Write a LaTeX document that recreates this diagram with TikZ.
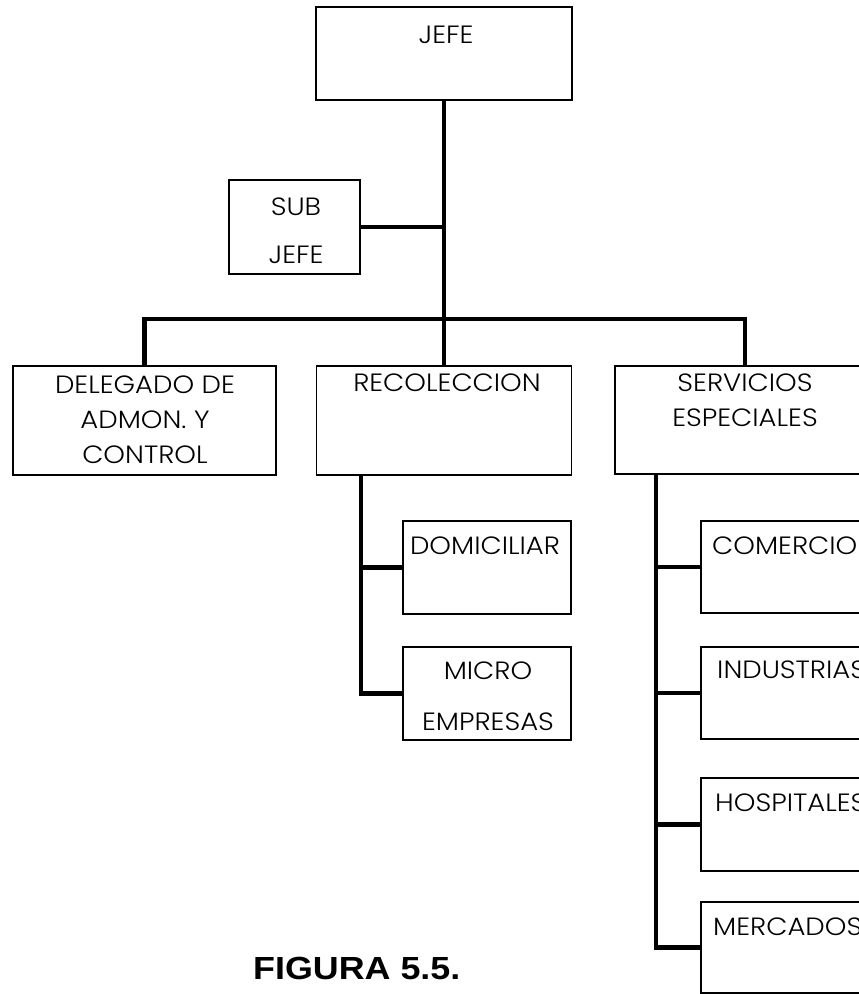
\documentclass[tikz,border=0pt]{standalone}
\usepackage{fontspec}
\setmainfont{Poppins}[UprightFont=* Light, FakeStretch=1.1]
\newfontfamily\figfont{Liberation Sans}[FakeStretch=1.12]
\begin{document}
\begin{tikzpicture}[x=1pt,y=-1pt,
  box/.style={draw=black, line width=1.8pt, rectangle, inner sep=0pt, fill=none},
  lbl/.style={inner sep=0pt, font=\fontsize{25}{30}\selectfont},
  link/.style={draw=black, line width=4.5pt}]
\useasboundingbox (0,0) rectangle (859,994);
% boxes
\node[box, minimum width=256pt, minimum height=93pt] (jefe) at (444,53.5) {};
\node[box, minimum width=131pt, minimum height=94pt] (sub) at (294.5,227) {};
\node[box, minimum width=263pt, minimum height=109pt] (deleg) at (144.5,420.5) {};
\node[box, minimum width=255pt, minimum height=109pt] (recol) at (444,420.5) {};
\node[box, minimum width=260pt, minimum height=108pt] (serv) at (745,420) {};
\node[box, minimum width=168pt, minimum height=93pt] (domi) at (487,567.5) {};
\node[box, minimum width=168pt, minimum height=93pt] (micro) at (487,693.5) {};
\node[box, minimum width=174pt, minimum height=92pt] (comer) at (788,567) {};
\node[box, minimum width=174pt, minimum height=92pt] (indus) at (788,693) {};
\node[box, minimum width=174pt, minimum height=93pt] (hosp) at (788,824.5) {};
\node[box, minimum width=174pt, minimum height=91pt] (merc) at (788,947.5) {};
% texts
\node[lbl] (tjefe) at (446,35) {JEFE};
\node[lbl] (tsub1) at (296,207) {SUB};
\node[lbl] (tsub2) at (296,255) {JEFE};
\node[lbl] (tdel1) at (145,385) {DELEGADO DE};
\node[lbl] (tdel2) at (145,420) {ADMON. Y};
\node[lbl] (tdel3) at (145,455) {CONTROL};
\node[lbl] (trec) at (447,383) {RECOLECCION};
\node[lbl] (tser1) at (745,383) {SERVICIOS};
\node[lbl] (tser2) at (745,418) {ESPECIALES};
\node[lbl] (tdom) at (485,546) {DOMICILIAR};
\node[lbl] (tmic1) at (488,671) {MICRO};
\node[lbl] (tmic2) at (488,722) {EMPRESAS};
\node[lbl, anchor=west] (tcom) at (712,546) {COMERCIO};
\node[lbl, anchor=west] (tind) at (717,670) {INDUSTRIAS};
\node[lbl, anchor=west] (thos) at (715,803) {HOSPITALES};
\node[lbl, anchor=west] (tmer) at (713,927) {MERCADOS};
\node[inner sep=0pt, anchor=west, font=\figfont\bfseries\fontsize{32}{36}\selectfont] (fig) at (253,968.5) {FIGURA 5.5.};
% connectors
\coordinate (bar) at (444,319);
\coordinate (rt) at (361,475);
\coordinate (st) at (656,474);
\draw[link] (jefe.south) -- (recol.north);
\draw[link] (sub.east) -- (sub.east -| jefe.south);
\draw[link] (deleg.north) |- (bar) -| (serv.north);
\draw[link] (rt) |- (micro.west);
\draw[link] (rt |- domi.west) -- (domi.west);
\draw[link] (st) |- (merc.west);
\draw[link] (st |- comer.west) -- (comer.west);
\draw[link] (st |- indus.west) -- (indus.west);
\draw[link] (st |- hosp.west) -- (hosp.west);
\end{tikzpicture}
\end{document}
